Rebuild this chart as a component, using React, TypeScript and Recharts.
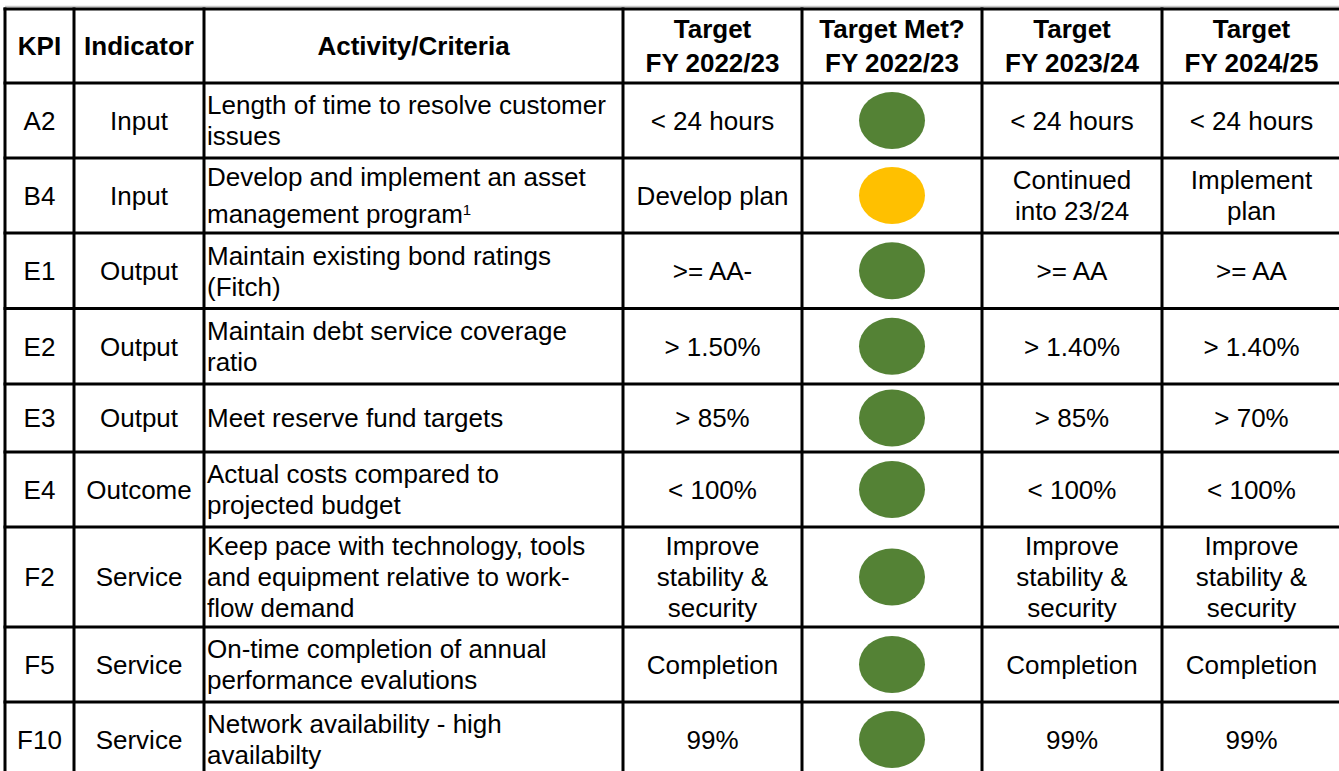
import { ScatterChart, Scatter, XAxis, YAxis, ReferenceLine } from 'recharts';

// table content
const headers = [
  ['KPI'],
  ['Indicator'],
  ['Activity/Criteria'],
  ['Target', 'FY 2022/23'],
  ['Target Met?', 'FY 2022/23'],
  ['Target', 'FY 2023/24'],
  ['Target', 'FY 2024/25'],
];

const kpis = ['A2', 'B4', 'E1', 'E2', 'E3', 'E4', 'F2', 'F5', 'F10'];

const indicators = ['Input', 'Input', 'Output', 'Output', 'Output', 'Outcome', 'Service', 'Service', 'Service'];

const activities = [
  ['Length of time to resolve customer', 'issues'],
  ['Develop and implement an asset', 'management program'],
  ['Maintain existing bond ratings', '(Fitch)'],
  ['Maintain debt service coverage', 'ratio'],
  ['Meet reserve fund targets'],
  ['Actual costs compared to', 'projected budget'],
  ['Keep pace with technology, tools', 'and equipment relative to work-', 'flow demand'],
  ['On-time completion of annual', 'performance evalutions'],
  ['Network availability - high', 'availabilty'],
];

const activityNotes = ['', '1', '', '', '', '', '', '', ''];

const targets2223 = [
  ['< 24 hours'],
  ['Develop plan'],
  ['>= AA-'],
  ['> 1.50%'],
  ['> 85%'],
  ['< 100%'],
  ['Improve', 'stability &', 'security'],
  ['Completion'],
  ['99%'],
];

const met2223 = ['met', 'partial', 'met', 'met', 'met', 'met', 'met', 'met', 'met'];

const targets2324 = [
  ['< 24 hours'],
  ['Continued', 'into 23/24'],
  ['>= AA'],
  ['> 1.40%'],
  ['> 85%'],
  ['< 100%'],
  ['Improve', 'stability &', 'security'],
  ['Completion'],
  ['99%'],
];

const targets2425 = [
  ['< 24 hours'],
  ['Implement', 'plan'],
  ['>= AA'],
  ['> 1.40%'],
  ['> 70%'],
  ['< 100%'],
  ['Improve', 'stability &', 'security'],
  ['Completion'],
  ['99%'],
];

// layout
const WIDTH = 1339;
const HEIGHT = 771;
const LEFT = 5;
const TOP = 9;
const colWidths = [69, 130, 419, 179, 180, 180, 179];
const rowHeights = [74, 75, 75, 75.5, 75.5, 68, 75, 100, 75, 75];
const STATUS_COLORS: Record<string, string> = { met: '#548235', partial: '#FFC000' };
const FONT = '"Liberation Sans", Arial, Helvetica, sans-serif';

const edges = (start: number, sizes: number[]) =>
  sizes.reduce((acc, s) => [...acc, acc[acc.length - 1] + s], [start]);

const colEdges = edges(LEFT, colWidths);
const rowEdges = edges(TOP, rowHeights);
const colMid = (c: number) => (colEdges[c] + colEdges[c + 1]) / 2;
const rowMid = (r: number) => (rowEdges[r] + rowEdges[r + 1]) / 2;

type Cell = { x: number; y: number; lines: string[]; anchor: string; header?: boolean; note?: string };

const textCells: Cell[] = [];
headers.forEach((lines, c) => {
  textCells.push({ x: colMid(c), y: rowMid(0), lines, anchor: 'middle', header: true });
});
kpis.forEach((kpi, i) => {
  const r = i + 1;
  textCells.push({ x: colMid(0), y: rowMid(r), lines: [kpi], anchor: 'middle' });
  textCells.push({ x: colMid(1), y: rowMid(r), lines: [indicators[i]], anchor: 'middle' });
  textCells.push({ x: colEdges[2] + 3, y: rowMid(r), lines: activities[i], anchor: 'start', note: activityNotes[i] });
  textCells.push({ x: colMid(3), y: rowMid(r), lines: targets2223[i], anchor: 'middle' });
  textCells.push({ x: colMid(5), y: rowMid(r), lines: targets2324[i], anchor: 'middle' });
  textCells.push({ x: colMid(6), y: rowMid(r), lines: targets2425[i], anchor: 'middle' });
});

const statusCells = met2223.map((status, i) => ({ x: colMid(4), y: rowMid(i + 1), status }));

const renderText = (props: any) => {
  const { cx, cy, payload } = props;
  const lines: string[] = payload.lines;
  const n = lines.length;
  const lh = (payload.header ? 34 : 31) + (payload.note ? 6 : 0);
  return (
    <g>
      {lines.map((line, i) => (
        <text
          key={i}
          x={cx}
          y={cy + (i - (n - 1) / 2) * lh + 9.3}
          textAnchor={payload.anchor}
          fontFamily={FONT}
          fontSize={26}
          fontWeight={payload.header ? 'bold' : 'normal'}
          fill='#000'
        >
          {line}
          {i === n - 1 && payload.note ? (
            <tspan dy={-8} fontSize={15}>
              {payload.note}
            </tspan>
          ) : null}
        </text>
      ))}
    </g>
  );
};

const renderStatus = (props: any) => {
  const { cx, cy, payload } = props;
  return <ellipse cx={cx} cy={cy} rx={33} ry={28.5} fill={STATUS_COLORS[payload.status]} />;
};

export default function App() {
  const bottom = rowEdges[rowEdges.length - 1];
  const right = colEdges[colEdges.length - 1];
  return (
    <div style={{ position: 'absolute', left: 0, top: 0, background: '#fff' }}>
      <ScatterChart width={WIDTH} height={HEIGHT} margin={{ top: 0, right: 0, bottom: 0, left: 0 }}>
        <XAxis type='number' dataKey='x' domain={[0, WIDTH]} allowDataOverflow hide />
        <YAxis type='number' dataKey='y' domain={[0, HEIGHT]} allowDataOverflow reversed hide />
        <ReferenceLine
          segment={[{ x: LEFT, y: 6.5 }, { x: WIDTH, y: 6.5 }]}
          stroke='#c8c8c8'
          strokeWidth={1.5}
          ifOverflow='visible'
        />
        {colEdges.map((x, i) => (
          <ReferenceLine
            key={`c${i}`}
            segment={[{ x, y: TOP - 1.5 }, { x, y: bottom }]}
            stroke='#000'
            strokeWidth={3}
            ifOverflow='visible'
          />
        ))}
        {rowEdges.map((y, i) => (
          <ReferenceLine
            key={`r${i}`}
            segment={[{ x: LEFT - 1.5, y }, { x: right + 1.5, y }]}
            stroke='#000'
            strokeWidth={3}
            ifOverflow='visible'
          />
        ))}
        <Scatter data={statusCells} shape={renderStatus} isAnimationActive={false} />
        <Scatter data={textCells} shape={renderText} isAnimationActive={false} />
      </ScatterChart>
    </div>
  );
}
